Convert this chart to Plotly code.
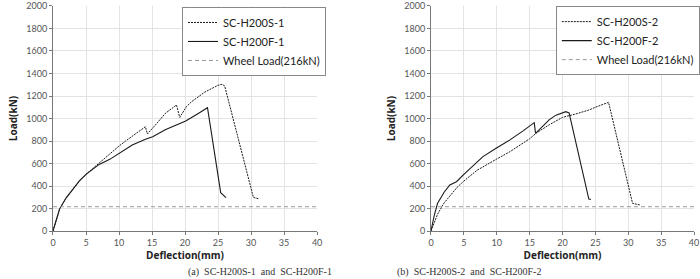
import plotly.graph_objects as go

# Panel (a)
s1_x = [0, 0.5, 1, 2, 3, 4, 5, 6, 7, 8, 9, 10, 11, 12, 13, 14, 14.3, 15, 16, 17, 18, 18.7, 19.2, 20.2, 21, 22, 23, 24, 25, 25.6, 26, 30.35, 31.1]
s1_y = [0, 110, 195, 295, 375, 445, 504, 555, 601, 655, 705, 755, 800, 845, 885, 927, 862, 905, 975, 1045, 1090, 1120, 1010, 1105, 1150, 1195, 1235, 1265, 1295, 1304, 1290, 299, 287]
f1_x = [0, 0.5, 1, 2, 3, 4, 5, 6, 7, 8.6, 10.15, 12, 14, 15.1, 17, 19, 20.1, 22, 23.4, 25.4, 26.2]
f1_y = [0, 110, 195, 295, 375, 445, 504, 550, 592, 637, 696, 765, 815, 838, 900, 950, 978, 1045, 1096, 341, 296]

# Panel (b)
s2_x = [0, 0.5, 1, 2, 3, 4, 5, 7, 10, 12, 15, 16, 18, 20, 22, 24, 25, 27.0, 30.65, 31.8]
s2_y = [0, 80, 150, 250, 325, 390, 444, 540, 640, 705, 820, 870, 945, 1010, 1040, 1075, 1100, 1144, 246, 231]
f2_x = [0, 0.5, 1, 2, 2.86, 3.87, 5, 6.5, 7.9, 9.9, 12, 14, 15.7, 15.9, 17, 18, 19, 20, 20.5, 21, 24.0, 24.3]
f2_y = [0, 140, 246, 345, 409, 438, 504, 590, 661, 735, 810, 890, 963, 868, 930, 990, 1030, 1055, 1061, 1050, 284, 281]

wheel_x = [0, 40]
wheel_y = [216, 216]

x_ticks = [0, 5, 10, 15, 20, 25, 30, 35, 40]
y_ticks = [0, 200, 400, 600, 800, 1000, 1200, 1400, 1600, 1800, 2000]

fig = go.Figure()
line_col = "#1a1a1a"
wheel_col = "#9a9a9a"

def add_panel(sx, sy, fx, fy, sname, fname, xa, ya, leg):
    fig.add_trace(go.Scatter(x=sx, y=sy, mode="lines", name=sname, xaxis=xa, yaxis=ya, legend=leg,
                             legendgroup=leg + "a", line=dict(color=line_col, width=1, dash="2px,1px")))
    fig.add_trace(go.Scatter(x=fx, y=fy, mode="lines", name=fname, xaxis=xa, yaxis=ya, legend=leg,
                             legendgroup=leg + "b", line=dict(color=line_col, width=1.1)))
    fig.add_trace(go.Scatter(x=wheel_x, y=wheel_y, mode="lines", name="Wheel Load(216kN)", xaxis=xa, yaxis=ya,
                             legend=leg, legendgroup=leg + "c", line=dict(color=wheel_col, width=1, dash="4px,3px")))

add_panel(s1_x, s1_y, f1_x, f1_y, "SC-H200S-1", "SC-H200F-1", "x", "y", "legend")
add_panel(s2_x, s2_y, f2_x, f2_y, "SC-H200S-2", "SC-H200F-2", "x2", "y2", "legend2")

tickfont = dict(family="Lato, Open Sans, sans-serif", size=9, color="#555")
titlefont = dict(family="Open Sans, sans-serif", size=10, color="#222", weight="bold")

def xaxis(dom, anchor):
    return dict(domain=dom, anchor=anchor, range=[0, 40], tickvals=x_ticks, showgrid=True,
                gridcolor="#e3e3e3", gridwidth=1, showline=True, linecolor="#777", linewidth=1,
                ticks="outside", ticklen=3, tickcolor="#777", tickfont=tickfont, zeroline=False,
                ticklabeloverflow="allow", automargin=False,
                title=dict(text="Deflection(mm)", font=titlefont, standoff=4))

def yaxis(anchor):
    return dict(domain=[0.172, 0.9785], anchor=anchor, range=[0, 2000], tickvals=y_ticks, showgrid=True,
                gridcolor="#e3e3e3", gridwidth=1, showline=True, linecolor="#777", linewidth=1,
                ticks="outside", ticklen=3, tickcolor="#777", tickfont=tickfont, zeroline=False,
                ticklabeloverflow="allow", automargin=False,
                title=dict(text="Load(kN)", font=titlefont, standoff=6))

legfont = dict(family="Lato, Open Sans, sans-serif", size=11, color="#222")
fig.update_layout(
    width=700, height=279, margin=dict(l=0, r=0, t=0, b=0, autoexpand=False),
    paper_bgcolor="white", plot_bgcolor="white",
    xaxis=xaxis([0.0757, 0.453], "y"), yaxis=yaxis("x"),
    xaxis2=xaxis([0.6157, 0.9915], "y2"), yaxis2=yaxis("x2"),
    legend=dict(x=0.26, y=0.975, xanchor="left", yanchor="top", bordercolor="#888", borderwidth=1,
                bgcolor="white", font=legfont, tracegroupgap=0, itemwidth=30),
    legend2=dict(x=0.794, y=0.978, xanchor="left", yanchor="top", bordercolor="#888", borderwidth=1,
                 bgcolor="white", font=legfont, tracegroupgap=0, itemwidth=30),
    showlegend=True,
)

capfont = dict(family="Liberation Serif, Times New Roman, serif", size=10, color="#333")
fig.add_annotation(text="(a)  SC-H200S-1  and  SC-H200F-1", xref="paper", yref="paper", x=0.265, y=0,
                   yanchor="bottom", yshift=-1, showarrow=False, font=capfont)
fig.add_annotation(text="(b)  SC-H200S-2  and  SC-H200F-2", xref="paper", yref="paper", x=0.775, y=0,
                   yanchor="bottom", yshift=-1, showarrow=False, font=capfont)

fig.write_html("out.html")
